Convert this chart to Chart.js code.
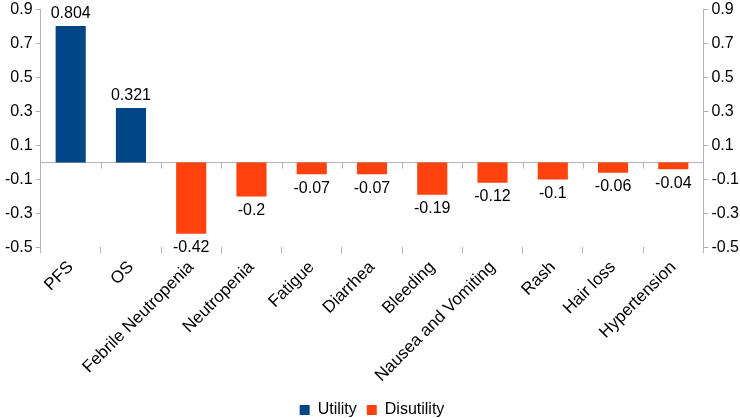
<!DOCTYPE html>
<html>
<head>
<meta charset="utf-8">
<script src="https://cdn.jsdelivr.net/npm/chart.js@4"></script>
<style>
  html, body { margin: 0; padding: 0; background: #fff; }
  #wrap { width: 740px; height: 418px; }
</style>
</head>
<body>
<div id="wrap"><canvas id="chart"></canvas></div>
<script>
const categories = ['PFS', 'OS', 'Febrile Neutropenia', 'Neutropenia', 'Fatigue', 'Diarrhea',
    'Bleeding', 'Nausea and Vomiting', 'Rash', 'Hair loss', 'Hypertension'];
const utility = [0.804, 0.321, null, null, null, null, null, null, null, null, null];
const disutility = [null, null, -0.42, -0.2, -0.07, -0.07, -0.19, -0.12, -0.1, -0.06, -0.04];
const yTicks = [-0.5, -0.3, -0.1, 0.1, 0.3, 0.5, 0.7, 0.9];

const axisGray = '#b3b3b3';
const font = 'Liberation Sans, Arial, sans-serif';

// zero line plus the little tick marks hanging under it
const zeroLine = {
    id: 'zeroLine',
    beforeDatasetsDraw(chart) {
        const ctx = chart.ctx;
        const x = chart.scales.x;
        const y0 = chart.scales.y.getPixelForValue(0);
        const step = (x.right - x.left) / categories.length;
        ctx.save();
        ctx.strokeStyle = axisGray;
        ctx.lineWidth = 1;
        ctx.beginPath();
        ctx.moveTo(x.left, Math.round(y0) + 0.5);
        ctx.lineTo(x.right, Math.round(y0) + 0.5);
        for (let i = 1; i < categories.length; i++) {
            const px = Math.round(x.left + i * step) + 0.5;
            ctx.moveTo(px, y0);
            ctx.lineTo(px, y0 + 6);
        }
        ctx.stroke();
        ctx.restore();
    }
};

const valueLabels = {
    id: 'valueLabels',
    afterDatasetsDraw(chart) {
        const ctx = chart.ctx;
        ctx.save();
        ctx.font = '16px ' + font;
        ctx.fillStyle = '#000';
        ctx.textAlign = 'center';
        chart.data.datasets.forEach((ds, i) => {
            chart.getDatasetMeta(i).data.forEach((bar, j) => {
                const v = ds.data[j];
                if (v === null) return;
                if (v >= 0) {
                    ctx.textBaseline = 'alphabetic';
                    ctx.fillText(String(v), bar.x, bar.y - 8);
                } else {
                    ctx.textBaseline = 'top';
                    ctx.fillText(String(v), bar.x, bar.y + 6);
                }
            });
        });
        ctx.restore();
    }
};

function yAxis(position) {
    return {
        position: position,
        display: true,
        min: -0.5,
        max: 0.9,
        afterBuildTicks: (axis) => { axis.ticks = yTicks.map(v => ({ value: v })); },
        border: { display: true, color: axisGray },
        grid: { drawOnChartArea: false, drawTicks: true, tickLength: 5, color: axisGray },
        ticks: { color: '#000', font: { family: font, size: 16, lineHeight: 0.85 }, padding: 3,
            callback: (v) => String(Math.round(v * 10) / 10) }
    };
}

new Chart(document.getElementById('chart'), {
    type: 'bar',
    data: {
        labels: categories,
        datasets: [
            { label: 'Utility', data: utility, backgroundColor: '#004586', yAxisID: 'y' },
            { label: 'Disutility', data: disutility, backgroundColor: '#ff420e', yAxisID: 'y' }
        ]
    },
    options: {
        responsive: true,
        maintainAspectRatio: false,
        animation: false,
        layout: { padding: { top: 0, right: -2, left: 2, bottom: -10 } },
        datasets: { bar: { grouped: false, barPercentage: 0.5, categoryPercentage: 1 } },
        scales: {
            x: {
                border: { display: false },
                grid: { drawOnChartArea: false, drawTicks: true, tickLength: 6, color: axisGray, offset: true },
                ticks: { color: '#000', font: { family: font, size: 17 }, minRotation: 45, maxRotation: 45, padding: 4 },
                afterFit: (axis) => { axis.height += 2; }
            },
            y: yAxis('left'),
            y2: yAxis('right')
        },
        plugins: {
            legend: {
                position: 'bottom',
                labels: { color: '#000', font: { family: font, size: 16 }, boxWidth: 10, boxHeight: 10, padding: 10 }
            },
            tooltip: { enabled: false }
        }
    },
    plugins: [zeroLine, valueLabels]
});
</script>
</body>
</html>
